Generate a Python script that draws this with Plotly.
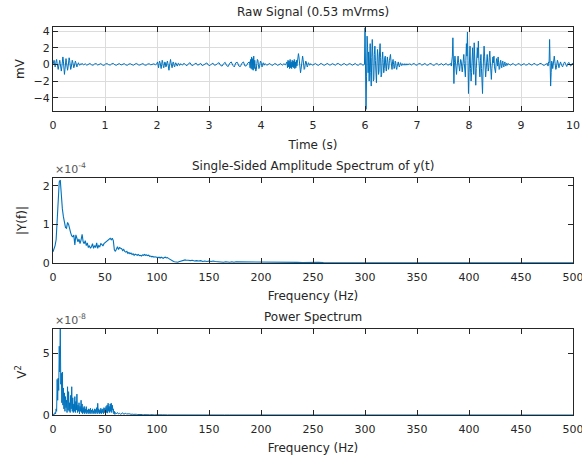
import plotly.graph_objects as go

# raw signal (mV), pieces of the recording: bursts sampled at 10 ms, quiet parts coarser
burst_0s = [0.0, 0.3, 0.5, 0.2, -0.3, -0.1, 0.4, 0.6, 0.1, -0.4, -0.6, -0.2, 0.3, 0.5, 0.1, -0.5,
            -0.8, -0.3, 0.6, 0.9, 0.4, -0.7, -1.2, -0.6, 0.5, 0.7, 0.2, -0.4, -0.7, -0.3, 0.4, 0.8,
            0.5, -0.3, -0.6, -0.4, 0.2, 0.5, 0.3, -0.2, -0.4, -0.2, 0.2, 0.4, 0.2, -0.2, -0.3, -0.1,
            0.2, 0.2, 0.0, -0.1, -0.1, 0.0, 0.1, 0.0]
quiet_1s = [0.1, -0.05, 0.08, -0.1, 0.05, 0.12, -0.04, -0.1, 0.06, 0.1, -0.08, 0.0, 0.1, -0.06,
            -0.12, 0.05, 0.1, -0.03, -0.08, 0.07, 0.12, -0.05, -0.1, 0.04, 0.09, -0.07, 0.02, 0.1,
            -0.06, -0.1, 0.05, 0.08, -0.04, -0.09, 0.06, 0.11, -0.05, -0.08, 0.03, 0.1, -0.06, -0.1,
            0.04, 0.08, -0.05, 0.0, 0.07, -0.04]
burst_2s = [0.1, 0.3, -0.2, -0.4, 0.1, 0.4, 0.2, -0.3, -0.5, 0.0, 0.5, 0.3, -0.2, -0.4, -0.1, 0.3,
            0.2, -0.3, -0.2, 0.2, 0.4, 0.1, -0.5, -0.7, -0.2, 0.4, 0.6, 0.2, -0.3, -0.4, 0.0, 0.3,
            0.2, -0.2, -0.3, 0.0, 0.2, 0.1, -0.1, -0.2, 0.0, 0.15, 0.1, -0.1, -0.1, 0.05]
quiet_3s = [0.1, -0.1, 0.15, -0.05, -0.15, 0.1, 0.2, -0.1, -0.12, 0.08, 0.15, -0.1, 0.0, 0.12,
            -0.15, -0.05, 0.1, 0.18, -0.08, -0.15, 0.05, 0.15, -0.1, -0.05, 0.12, 0.2, -0.12, -0.2,
            0.1, 0.25, -0.15, -0.25, 0.15, 0.3, -0.1, -0.3, 0.2, 0.25, -0.2, -0.25, 0.15, 0.3, -0.2,
            -0.15, 0.2]
burst_4s = [0.3, -0.4, 0.6, -0.5, 0.9, -0.6, 0.7, -0.7, 1.0, -0.5, 0.5, -0.3, -0.8, -0.6, 0.1,
            0.6, 0.5, 0.0, -0.5, -0.4, 0.1, 0.4, 0.3, -0.1, -0.3, -0.1, 0.2, 0.15, -0.1, 0.0]
quiet_4s = [0.1, -0.1, 0.05, 0.12, -0.08, -0.1, 0.1, 0.05, -0.12, 0.0, 0.1, -0.1, 0.08, -0.05]
burst_4_5s = [0.3, -0.4, 0.5, -0.3, 0.4, -0.5, 0.6, -0.4, 0.3, -0.5, 0.5, -0.3, 0.4, -0.4, 0.6,
              -0.5, 0.3, -0.4, 0.5, -0.2, 0.2, 0.8, 1.3, 0.9, 0.0, -0.7, -1.0, -0.6, 0.2, 0.8, 1.0,
              0.6, -0.1, -0.6, -0.5, 0.0, 0.4, 0.3, -0.1, -0.3, -0.1, 0.2, 0.15, -0.05, -0.1, 0.05]
quiet_5s = [0.1, -0.1, 0.05, 0.12, -0.05, -0.12, 0.08, 0.1, -0.06, -0.1, 0.05, 0.12, -0.08, -0.05,
            0.1, 0.0, -0.1, 0.08, 0.12, -0.05, -0.1, 0.06, 0.1, -0.08, -0.05, 0.1, 0.05, -0.1, 0.0,
            0.12, -0.06, -0.1, 0.08, 0.05, -0.1]
burst_6s = [0.0, 4.4, 1.0, -5.4, -1.5, 3.4, 2.0, -1.0, 1.5, -2.0, 0.5, 2.5, -1.0, -2.6, 0.8, 3.0,
            1.0, -2.0, -1.8, 1.2, 2.2, 0.5, -1.5, -2.2, 0.0, 1.8, 1.0, -1.2, -0.8, 1.5, 2.5, 0.8,
            -1.5, -1.2, 0.6, 1.5, 0.2, -1.0, -0.5, 0.8, 1.0, -0.3, -0.8, 0.2, 0.9, 0.3, -0.6, -0.4,
            0.5, 0.7, 1.2, 0.4, -0.5, -0.6, 0.3, 0.6, 0.0, -0.5, -0.3, 0.4, 0.3, -0.4, -0.6, -0.2,
            0.3, 0.3, -0.1, -0.3, -0.1, 0.2, 0.15, -0.1, -0.15, 0.05, 0.1, 0.0, -0.1, 0.05, 0.1,
            -0.05, -0.1, 0.05, 0.08, -0.05, -0.05, 0.05, 0.0]
quiet_7s = [0.1, -0.08, 0.05, 0.12, -0.1, -0.05, 0.1, 0.08, -0.1, 0.0, 0.12, -0.06, -0.1, 0.08,
            0.1, -0.05, -0.12, 0.05, 0.1, -0.08, 0.0, 0.1, -0.1, 0.05, 0.12, -0.1, 0.0]
burst_8s = [0.1, -0.2, 0.3, 1.0, 3.2, -0.5, -2.3, 0.2, 1.0, 0.3, -0.8, -1.2, -0.3, 0.8, 1.0, 0.2,
            -0.6, -0.8, 0.0, 0.6, 0.4, -0.3, -0.9, -0.2, 0.7, 1.2, 0.1, -1.0, -1.5, 0.5, 2.5, 1.0,
            3.9, 0.5, -3.5, -1.0, 1.5, 2.2, -0.5, -2.0, -1.0, 1.0, 2.0, 0.5, -1.2, 2.6, 0.8, -1.5,
            -2.5, -0.5, 1.5, 2.0, 0.8, 2.8, 0.5, -1.0, -1.5, 0.5, 1.2, -0.5, -2.0, -3.5, -0.8, 1.0,
            2.2, 1.0, -0.5, -1.5, -0.6, 0.8, 1.2, 0.2, -0.8, -0.4, 0.8, 1.6, 0.4, -1.0, -1.8, -0.5,
            0.6, 0.9, 0.2, 1.0, -0.3, -0.9, -1.0, 0.0, 0.7, 0.5, -0.2, 0.9, 0.2, -0.6, -0.5, 0.3,
            0.5, -0.2, -0.4, 0.2, 0.4, -0.1, -0.3, 0.1, 0.3, -0.1, -0.2, 0.1, 0.15, -0.1, -0.05]
quiet_9s = [0.1, -0.1, 0.05, 0.12, -0.08, -0.1, 0.1, 0.05, -0.12, 0.05, 0.1, -0.08, -0.05, 0.12,
            0.0, -0.1, 0.08, 0.1, -0.1, -0.05, 0.1, 0.12, -0.08, -0.1, 0.05]
burst_9_5s = [0.1, -0.2, 0.3, 0.2, 3.0, 0.5, -2.6, -1.0, 0.4, 0.2, -0.5, 0.3, 0.8, 1.0, 0.4, -0.3,
              -0.6, -0.4, 0.2, 0.5, 0.3, -0.2, -0.4, -0.1, 0.2]
tail_10s = [0.3, -0.1, -0.3, 0.1, 0.3, 0.0, -0.25, 0.1, 0.25, -0.1, -0.2, 0.1, 0.1]

# (start time in s, sample step in s or None = stretch to next piece, values)
raw_pieces = [
    (0.00, 0.01, burst_0s), (0.56, None, quiet_1s),
    (2.00, 0.01, burst_2s), (2.46, None, quiet_3s),
    (3.78, 0.01, burst_4s), (4.08, None, quiet_4s),
    (4.50, 0.01, burst_4_5s), (4.96, None, quiet_5s),
    (5.99, 0.01, burst_6s), (6.86, None, quiet_7s),
    (7.65, 0.01, burst_8s), (8.76, None, quiet_9s),
    (9.51, 0.01, burst_9_5s), (9.76, 0.02, tail_10s),
]

# single-sided amplitude spectrum, in units of 1e-4
amp_0_130hz = [0.29, 0.35, 0.45, 0.6, 1.2, 1.8, 2.1, 2.15, 1.7, 1.4, 1.2, 1.0, 0.92, 0.9, 1.05, 1.0,
               0.85, 0.78, 0.7, 0.68, 0.72, 0.47, 0.73, 0.6, 0.55, 0.62, 0.5, 0.6, 0.74, 0.55, 0.5,
               0.58, 0.45, 0.52, 0.4, 0.45, 0.38, 0.42, 0.5, 0.38, 0.45, 0.4, 0.52, 0.38, 0.45, 0.42,
               0.5, 0.48, 0.44, 0.5, 0.52, 0.55, 0.58, 0.6, 0.62, 0.64, 0.6, 0.64, 0.58, 0.34, 0.3,
               0.38, 0.42, 0.35, 0.4, 0.38, 0.37, 0.32, 0.35, 0.3, 0.28, 0.3, 0.25, 0.27, 0.24, 0.26,
               0.22, 0.24, 0.2, 0.23, 0.21, 0.2, 0.22, 0.19, 0.2, 0.18, 0.21, 0.2, 0.22, 0.2, 0.21,
               0.19, 0.2, 0.17, 0.18, 0.16, 0.17, 0.15, 0.16, 0.15, 0.16, 0.14, 0.15, 0.13, 0.15,
               0.14, 0.12, 0.14, 0.15, 0.13, 0.14, 0.12, 0.1, 0.08, 0.06, 0.05, 0.04, 0.03, 0.02,
               0.02, 0.02, 0.03, 0.04, 0.05, 0.06, 0.07, 0.06, 0.08, 0.07, 0.06, 0.07]
amp_132_200hz = [0.06, 0.07, 0.05, 0.06, 0.05, 0.06, 0.04, 0.05, 0.04, 0.05, 0.04, 0.05, 0.04, 0.03,
                 0.04, 0.03, 0.02, 0.03, 0.02, 0.02, 0.03, 0.02, 0.03, 0.03, 0.02, 0.03, 0.02, 0.03,
                 0.02, 0.03, 0.02, 0.02, 0.03, 0.02, 0.02]
amp_205_500hz = [0.02, 0.02, 0.015, 0.02, 0.015, 0.02, 0.015, 0.01, 0.015, 0.01,
                 0.015, 0.01, 0.01, 0.015, 0.01, 0.01, 0.012, 0.01, 0.008, 0.01,
                 0.01, 0.008, 0.01, 0.008, 0.007, 0.01, 0.008, 0.007, 0.008, 0.006,
                 0.007, 0.006, 0.008, 0.006, 0.005, 0.007, 0.005, 0.006, 0.005, 0.005,
                 0.006, 0.005, 0.004, 0.005, 0.004, 0.005, 0.004, 0.004, 0.005, 0.004,
                 0.004, 0.003, 0.004, 0.003, 0.004, 0.003, 0.003, 0.004, 0.003, 0.003]
amp_pieces = [(0, 1, amp_0_130hz), (132, 2, amp_132_200hz), (205, 5, amp_205_500hz)]

# power spectrum, in units of 1e-8
pow_0_60hz = [0.0, 0.05, 0.1, 0.05, 0.2, 0.1, 0.5, 0.3, 2.9, 1.2, 3.0, 2.0, 5.6, 3.5, 7.2, 2.5,
              3.4, 1.0, 3.5, 0.8, 2.2, 0.5, 1.8, 0.3, 1.5, 0.6, 1.2, 0.2, 2.3, 0.4, 1.9, 0.3, 1.0,
              0.2, 1.6, 0.5, 2.3, 0.3, 1.4, 0.2, 0.9, 0.3, 1.5, 0.2, 1.1, 0.4, 1.7, 0.2, 0.8, 0.3,
              1.0, 0.1, 0.7, 0.3, 1.2, 0.2, 0.9, 0.1, 0.6, 0.2, 0.7, 0.1, 0.5, 0.2, 0.68, 0.1, 0.4,
              0.2, 0.5, 0.1, 0.45, 0.15, 0.55, 0.1, 0.4, 0.2, 0.5, 0.1, 0.35, 0.15, 0.5, 0.1, 0.45,
              0.2, 0.6, 0.1, 0.95, 0.2, 0.5, 0.1, 0.4, 0.15, 0.55, 0.1, 0.45, 0.2, 0.5, 0.1, 0.6,
              0.2, 0.55, 0.1, 0.7, 0.2, 0.8, 0.15, 0.96, 0.3, 0.7, 0.2, 0.9, 0.3, 0.96, 0.2, 0.8,
              0.4, 0.5, 0.1, 0.3, 0.05, 0.2]
pow_61_100hz = [0.1, 0.2, 0.08, 0.15, 0.05, 0.12, 0.18, 0.06, 0.1, 0.15, 0.05, 0.12, 0.08, 0.1,
                0.04, 0.08, 0.05, 0.07, 0.03, 0.06, 0.04, 0.05, 0.03, 0.04, 0.02, 0.04, 0.03, 0.02,
                0.04, 0.02, 0.03, 0.02, 0.02, 0.03, 0.01, 0.02, 0.02, 0.01, 0.02, 0.01]
pow_105_500hz = [0.02, 0.01, 0.015, 0.01, 0.008, 0.01, 0.006, 0.008, 0.005, 0.006,
                 0.004, 0.005, 0.003, 0.004, 0.003, 0.004, 0.003, 0.002, 0.003, 0.002,
                 0.002, 0.003, 0.002, 0.002, 0.001, 0.002, 0.002, 0.001, 0.002, 0.001,
                 0.001, 0.002, 0.001, 0.001, 0.001, 0.002, 0.001, 0.001, 0.001, 0.001,
                 0.001, 0.001, 0.001, 0.001, 0.001, 0.001, 0.001, 0.001, 0.001, 0.001,
                 0.001, 0.001, 0.001, 0.001, 0.001, 0.001, 0.001, 0.001, 0.001, 0.001,
                 0.001, 0.001, 0.001, 0.001, 0.001, 0.001, 0.001, 0.001, 0.001, 0.001,
                 0.001, 0.001, 0.001, 0.001, 0.001, 0.001, 0.001, 0.001, 0.001, 0.001]
pow_pieces = [(0, 0.5, pow_0_60hz), (61, 1, pow_61_100hz), (105, 5, pow_105_500hz)]


def join_pieces(pieces, end=None, scale=1.0):
    xs, ys = [], []
    for i, (start, step, vals) in enumerate(pieces):
        if step is None:
            nxt = pieces[i + 1][0] if i + 1 < len(pieces) else end
            step = (nxt - start) / len(vals)
        for k, v in enumerate(vals):
            xs.append(round(start + k * step, 5))
            ys.append(v * scale)
    return xs, ys


t, mv = join_pieces(raw_pieces, end=10.0)
f_amp, amp = join_pieces(amp_pieces, scale=1e-4)
f_pow, pw = join_pieces(pow_pieces, scale=1e-8)

line_col = "#0072BD"
txt = "#262626"
fam = "DejaVu Sans, Liberation Sans, sans-serif"
font = dict(family=fam, size=11, color=txt)
tfont = dict(family=fam, size=12, color=txt)

fig = go.Figure()
fig.add_trace(go.Scatter(x=t, y=mv, mode="lines", line=dict(color=line_col, width=1),
                         xaxis="x", yaxis="y"))
fig.add_trace(go.Scatter(x=f_amp, y=amp, mode="lines", line=dict(color=line_col, width=1.1),
                         xaxis="x2", yaxis="y2"))
fig.add_trace(go.Scatter(x=f_pow, y=pw, mode="lines", line=dict(color=line_col, width=1),
                         xaxis="x3", yaxis="y3"))

ax = dict(showline=True, linecolor=txt, linewidth=1, mirror="ticks", ticks="inside",
          ticklen=5, tickcolor=txt, zeroline=False, tickfont=font, showgrid=False,
          automargin=False, ticklabeloverflow="allow")
xax = dict(ax, ticklabelstandoff=4)

fig.update_layout(
    width=582, height=458,
    margin=dict(l=53, r=9, t=27, b=43),
    paper_bgcolor="white", plot_bgcolor="white",
    showlegend=False, font=font,
    xaxis=dict(xax, domain=[0, 1], anchor="y", range=[0, 10], tickvals=list(range(11)),
               showgrid=True, gridcolor="#DCDCDC",
               title=dict(text="Time (s)", font=tfont, standoff=9)),
    yaxis=dict(ax, domain=[0.7835, 1], anchor="x", range=[-5.6, 4.5], tickvals=[-4, -2, 0, 2, 4],
               showgrid=True, gridcolor="#DCDCDC",
               title=dict(text="mV", font=tfont, standoff=6)),
    xaxis2=dict(xax, domain=[0, 1], anchor="y2", range=[0, 500], tickvals=list(range(0, 501, 50)),
                title=dict(text="Frequency (Hz)", font=tfont, standoff=8)),
    yaxis2=dict(ax, domain=[0.3918, 0.6108], anchor="x2", range=[0, 2.2e-4],
                tickvals=[0, 1e-4, 2e-4], ticktext=["0", "1", "2"],
                title=dict(text="|Y(f)|", font=tfont, standoff=13)),
    xaxis3=dict(xax, domain=[0, 1], anchor="y3", range=[0, 500], tickvals=list(range(0, 501, 50)),
                title=dict(text="Frequency (Hz)", font=tfont, standoff=8)),
    yaxis3=dict(ax, domain=[0, 0.2216], anchor="x3", range=[0, 7e-8],
                tickvals=[0, 5e-8], ticktext=["0", "5"],
                title=dict(text="V<sup>2</sup>", font=tfont, standoff=13)),
)

titles = [("Raw Signal (0.53 mVrms)", 1.0, 15),
          ("Single-Sided Amplitude Spectrum of y(t)", 0.6108, 12),
          ("Power Spectrum", 0.2216, 12)]
for text, ytop, shift in titles:
    fig.add_annotation(text=text, x=0.5, xref="paper", y=ytop, yref="paper", yshift=shift,
                       showarrow=False, font=tfont, yanchor="middle")

for text, ytop in [("×10<sup>-4</sup>", 0.6108), ("×10<sup>-8</sup>", 0.2216)]:
    fig.add_annotation(text=text, x=0, xref="paper", y=ytop, yref="paper", yshift=0,
                       xanchor="left", yanchor="bottom", showarrow=False,
                       font=dict(family=fam, size=11, color="#555555"))

# the page body has a default 8px margin; drop it so the figure sits at the window corner
fig.write_html("out.html", config={"displayModeBar": False},
               post_script="document.body.style.margin='0';")
